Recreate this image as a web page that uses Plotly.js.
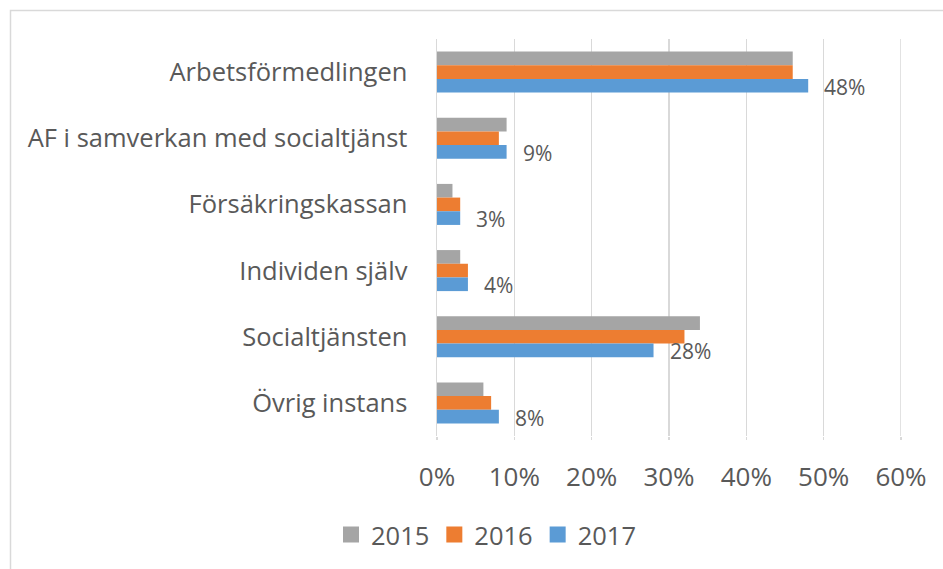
<!DOCTYPE html>
<html>
<head>
<meta charset="utf-8">
<script src="https://cdn.plot.ly/plotly-3.0.1.min.js"></script>
<style>html,body{margin:0;padding:0;background:#fff;}#chart{width:943px;height:569px;}</style>
</head>
<body>
<div id="chart"></div>
<script>
const categories = ["Arbetsförmedlingen", "AF i samverkan med socialtjänst", "Försäkringskassan", "Individen själv", "Socialtjänsten", "Övrig instans"];
const years = ["2015", "2016", "2017"];
const values2015 = [46, 9, 2, 3, 34, 6];
const values2016 = [46, 8, 3, 4, 32, 7];
const values2017 = [48, 9, 3, 4, 28, 8];
const tickValues = [0, 10, 20, 30, 40, 50, 60];
const tickLabels = ["0%", "10%", "20%", "30%", "40%", "50%", "60%"];

const colors = ["#A5A5A5", "#ED7D31", "#5B9BD5"];
const seriesValues = [values2015, values2016, values2017];
const FONT = "'Open Sans', sans-serif";
const TXT = "#595959";
const GRID = "#D9D9D9";

const W = 943, H = 569;
const M = {l: 437, r: 42, t: 39, b: 132};
const pw = W - M.l - M.r, ph = H - M.t - M.b;
const px2x = px => (px - M.l) / pw;
const py2y = py => 1 - (py - M.t) / ph;

const bargap = 0.38;
const barW = (1 - bargap) / years.length;

const barTraces = years.map((yr, i) => ({
  type: "bar",
  orientation: "h",
  name: yr,
  legendgroup: yr,
  showlegend: false,
  y: categories,
  x: seriesValues[i],
  marker: {color: colors[i], line: {width: 0}},
  hoverinfo: "x+y+name"
}));

// legend proxies (larger square swatches, as in the reference)
const legendTraces = years.map((yr, i) => ({
  type: "scatter",
  mode: "markers",
  name: yr,
  legendgroup: yr,
  showlegend: true,
  x: [null],
  y: [null],
  marker: {symbol: "square", size: 16, color: colors[i]},
  hoverinfo: "skip"
}));

const annotations = values2017.map((v, i) => ({
  x: v,
  y: i + barW,
  xref: "x",
  yref: "y",
  text: v + "%",
  showarrow: false,
  xanchor: "left",
  yanchor: "middle",
  xshift: 14,
  yshift: -1,
  font: {family: FONT, size: 21, color: TXT}
}));

const lastTick = tickValues[tickValues.length - 1];

const layout = {
  width: W,
  height: H,
  margin: M,
  paper_bgcolor: "#fff",
  plot_bgcolor: "#fff",
  barmode: "group",
  bargap: bargap,
  bargroupgap: 0,
  font: {family: FONT, color: TXT},
  xaxis: {
    range: [0, lastTick],
    tickvals: tickValues,
    ticktext: tickLabels,
    showgrid: true,
    gridcolor: GRID,
    gridwidth: 1.5,
    zeroline: false,
    showline: false,
    ticks: "outside",
    ticklen: 3,
    tickcolor: GRID,
    tickwidth: 1.5,
    ticklabelstandoff: 15,
    tickfont: {family: FONT, size: 26, color: TXT},
    fixedrange: true
  },
  yaxis: {
    type: "category",
    range: [categories.length - 0.5, -0.5],
    showgrid: false,
    zeroline: false,
    showline: true,
    linecolor: GRID,
    linewidth: 1.5,
    ticks: "",
    ticklabelstandoff: 23,
    tickfont: {family: FONT, size: 25.5, color: TXT},
    fixedrange: true
  },
  legend: {
    orientation: "h",
    x: px2x(486),
    xanchor: "center",
    xref: "paper",
    y: py2y(535),
    yanchor: "middle",
    yref: "paper",
    traceorder: "normal",
    itemsizing: "trace",
    font: {family: FONT, size: 25.5, color: TXT},
    itemwidth: 30,
    bgcolor: "rgba(0,0,0,0)"
  },
  annotations: annotations,
  shapes: [{
    type: "line",
    xref: "x",
    yref: "paper",
    x0: lastTick,
    x1: lastTick,
    y0: 0,
    y1: 1,
    line: {color: GRID, width: 1.5},
    layer: "below"
  }, {
    type: "rect",
    xref: "paper",
    yref: "paper",
    x0: px2x(10.5),
    x1: px2x(960),
    y0: py2y(10.5),
    y1: py2y(590),
    line: {color: GRID, width: 1.5},
    fillcolor: "rgba(0,0,0,0)",
    layer: "below"
  }],
  showlegend: true
};

Plotly.newPlot("chart", barTraces.concat(legendTraces), layout, {displayModeBar: false, staticPlot: true});
</script>
</body>
</html>
